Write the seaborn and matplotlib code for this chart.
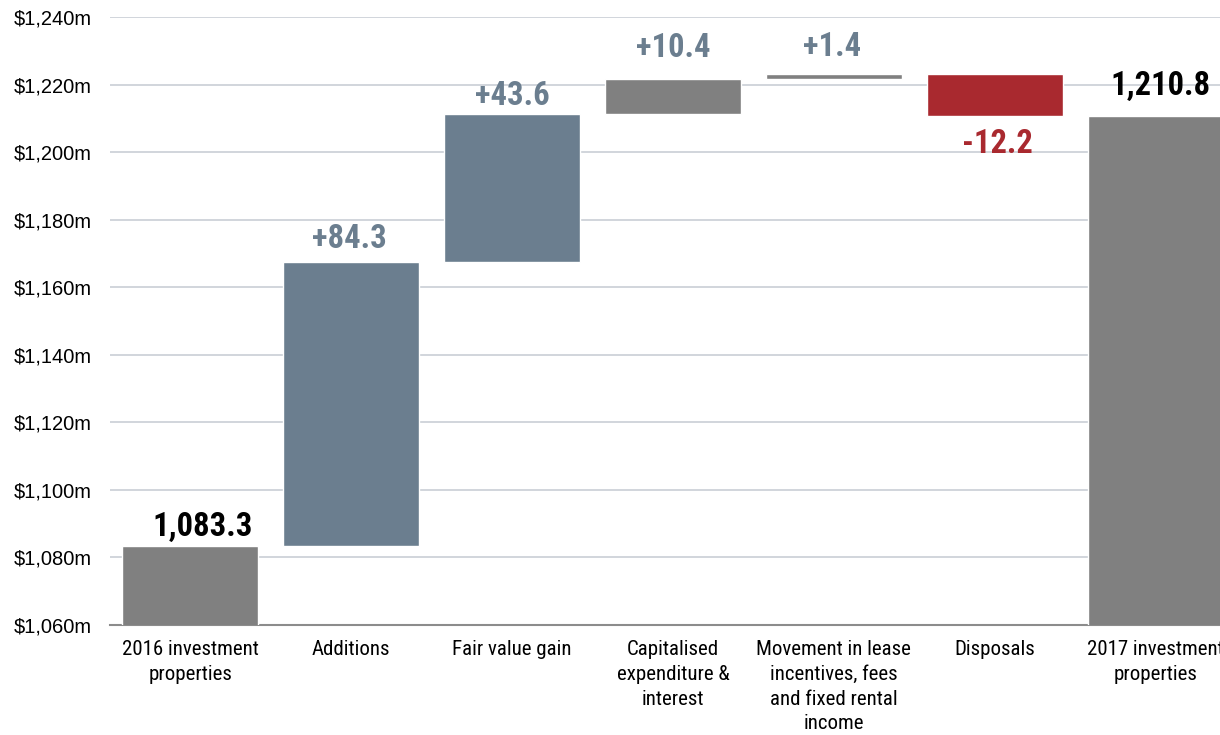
import pandas as pd
import matplotlib.pyplot as plt
import seaborn as sns
from matplotlib import font_manager as fm
from matplotlib.ticker import FuncFormatter, FixedLocator

steps = ["2016 investment\nproperties", "Additions", "Fair value gain",
         "Capitalised\nexpenditure &\ninterest",
         "Movement in lease\nincentives, fees\nand fixed rental\nincome",
         "Disposals", "2017 investment\nproperties"]
changes = [1083.3, 84.3, 43.6, 10.4, 1.4, -12.2, 1210.8]
kinds = ["total", "change", "change", "change", "change", "change", "total"]
labels = ["1,083.3", "+84.3", "+43.6", "+10.4", "+1.4", "-12.2", "1,210.8"]
bar_colors = ["#808080", "#6B7E8F", "#6B7E8F", "#808080", "#808080", "#A9292F", "#808080"]
label_colors = ["#000000", "#6B7E8F", "#6B7E8F", "#6B7E8F", "#6B7E8F", "#A9292F", "#000000"]
# label offsets from bar edge (points), as placed in the original
label_pad = [2.5, 4.5, 1.5, 11, 8, -9, 9.5]
label_shift = [8.5, -1.5, 0, 0, -1, 2, 3.5]


def find_narrow(bold):
    # look for an installed narrow / condensed sans face
    prefs = ["liberationsansnarrow", "arialn", "robotocondensed", "notosans-condensed",
             "notosanscondensed", "opensans_condensed", "opensanscondensed",
             "dejavusanscondensed"]
    files = [f.fname for f in fm.fontManager.ttflist]
    for key in prefs:
        for path in files:
            name = path.lower().replace(" ", "").split("/")[-1]
            if key not in name:
                continue
            if "italic" in name or "oblique" in name:
                continue
            if bold:
                if "bold" in name and "semi" not in name and "extra" not in name:
                    return fm.FontProperties(fname=path)
            else:
                if ("regular" in name or name.startswith(key + ".")) or (
                        "bold" not in name and "light" not in name and "thin" not in name
                        and "medium" not in name and "black" not in name and "semi" not in name):
                    return fm.FontProperties(fname=path)
    return None


# running totals for the waterfall
lows, highs = [], []
level = 0.0
for v, k in zip(changes, kinds):
    if k == "total":
        lo, hi = 0.0, v
        level = v
    else:
        lo, hi = min(level, level + v), max(level, level + v)
        level += v
    lows.append(lo)
    highs.append(hi)

df = pd.DataFrame({"step": steps, "low": lows, "high": highs})
df["height"] = df["high"] - df["low"]

sns.set_style("white")
plt.rcParams["font.family"] = ["Liberation Sans", "DejaVu Sans"]

reg = find_narrow(False)
bld = find_narrow(True)
if reg is None:
    reg = fm.FontProperties(family=["Liberation Sans", "DejaVu Sans"])
    xsize = 14
else:
    xsize = 15
if bld is None:
    bld = fm.FontProperties(family=["Liberation Sans", "DejaVu Sans"], weight="bold")
    vsize = 20
else:
    vsize = 23.5

fig = plt.figure(figsize=(12.2, 7.35), dpi=100)
ax = fig.add_axes([110 / 1220, 1 - 625 / 735, 1126 / 1220, 608 / 735])

sns.barplot(data=df, x="step", y="height", hue="step", palette=bar_colors,
            width=0.845, legend=False, saturation=1, ax=ax, zorder=3)

for patch, lo, h in zip(ax.patches, df["low"], df["height"]):
    patch.set_y(lo)
    patch.set_height(h)

ax.set_ylim(1060, 1240)
ax.set_xlim(-0.5, len(steps) - 0.5)
ax.set_yticks(range(1060, 1241, 20))
ax.yaxis.set_major_formatter(FuncFormatter(lambda v, p: f"${v:,.0f}m"))
ax.grid(axis="y", color="#C9CED6", linewidth=1.2, zorder=0)
ax.set_axisbelow(True)

for s in ["top", "right", "left"]:
    ax.spines[s].set_visible(False)
ax.spines["bottom"].set_color("#8C8C8C")
ax.spines["bottom"].set_linewidth(1.5)

ax.tick_params(axis="y", length=0, pad=13, labelsize=14.5, labelcolor="#000000")
ax.tick_params(axis="x", which="major", length=0, pad=11)
ax.xaxis.set_minor_locator(FixedLocator([i - 0.5 for i in range(len(steps) + 1)]))
ax.tick_params(axis="x", which="minor", length=6, width=1.2, color="#8C8C8C")
for t in ax.get_xticklabels():
    t.set_fontproperties(reg)
    t.set_fontsize(xsize)
    t.set_linespacing(1.38)
    t.set_verticalalignment("top")
    t.set_color("#000000")
ax.set_xlabel("")
ax.set_ylabel("")

for i, (lab, col) in enumerate(zip(labels, label_colors)):
    if changes[i] < 0:
        ax.annotate(lab, (i, df["low"][i]), xytext=(label_shift[i], label_pad[i]),
                    textcoords="offset points", ha="center", va="top",
                    fontproperties=bld, fontsize=vsize, color=col)
    else:
        ax.annotate(lab, (i, df["high"][i]), xytext=(label_shift[i], label_pad[i]),
                    textcoords="offset points", ha="center", va="bottom",
                    fontproperties=bld, fontsize=vsize, color=col)

fig.savefig("out.png", dpi=100)
